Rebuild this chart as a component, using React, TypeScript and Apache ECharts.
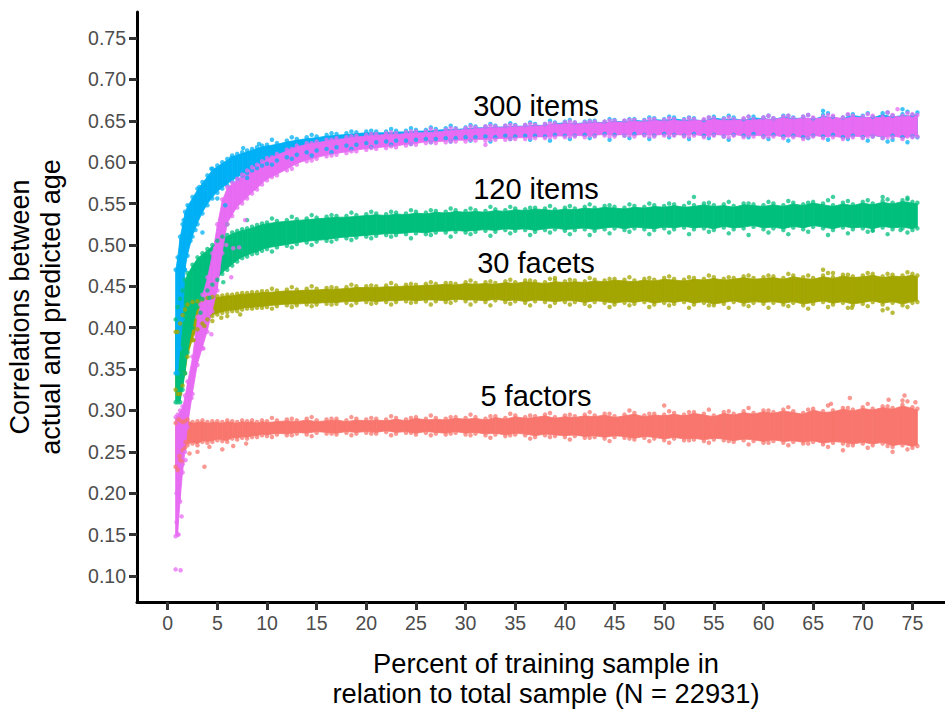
import React, { useEffect, useRef } from "react";
import * as echarts from "echarts";

const xTicks = [0, 5, 10, 15, 20, 25, 30, 35, 40, 45, 50, 55, 60, 65, 70, 75];
const yTicks = [0.1, 0.15, 0.2, 0.25, 0.3, 0.35, 0.4, 0.45, 0.5, 0.55, 0.6, 0.65, 0.7, 0.75];

const xs = [0.8, 1, 1.25, 1.5, 1.75, 2, 2.5, 3, 3.5, 4, 4.5, 5, 5.5, 6, 6.5, 7, 7.5, 8, 8.5, 9, 9.5, 10,
  11, 12, 13, 14, 15, 16, 17, 18, 19, 20, 21, 22, 23, 24, 25, 26, 27, 28, 29, 30,
  31, 32, 33, 34, 35, 36, 37, 38, 39, 40, 41, 42, 43, 44, 45, 46, 47, 48, 49, 50,
  51, 52, 53, 54, 55, 56, 57, 58, 59, 60, 61, 62, 63, 64, 65, 66, 67, 68, 69, 70,
  71, 72, 73, 74, 75, 75.5];

// Lower and upper edges of each cloud, correlation x 1000
const factorsLow = [232, 228, 240, 252, 255, 258, 260, 258, 262, 261, 262, 264, 263, 262, 266, 265, 267, 266, 268, 268, 270, 269,
  271, 270, 272, 271, 273, 272, 271, 273, 272, 273, 272, 274, 272, 273, 271, 273, 272, 271, 273, 271,
  272, 270, 271, 269, 271, 270, 268, 270, 269, 268, 269, 267, 268, 266, 268, 267, 265, 267, 266, 264,
  266, 264, 265, 263, 265, 264, 262, 264, 263, 261, 263, 261, 262, 260, 262, 259, 261, 260, 258, 260,
  258, 260, 256, 258, 255, 257];
const factorsHigh = [285, 290, 288, 286, 287, 289, 286, 287, 288, 286, 287, 287, 286, 288, 287, 286, 288, 287, 288, 286, 288, 287,
  288, 289, 288, 290, 288, 289, 290, 288, 290, 289, 290, 289, 291, 289, 292, 290, 291, 290, 292, 291,
  292, 290, 293, 291, 294, 292, 293, 295, 292, 294, 293, 295, 294, 296, 293, 295, 297, 294, 296, 295,
  297, 295, 298, 296, 294, 298, 296, 299, 297, 300, 298, 301, 299, 297, 302, 299, 300, 303, 301, 304,
  302, 305, 303, 307, 304, 302];
const facetsLow = [325, 320, 320, 330, 345, 365, 385, 398, 405, 410, 414, 416, 418, 419, 420, 420, 422, 423, 423, 424, 424, 425,
  426, 427, 427, 428, 428, 429, 429, 430, 430, 431, 430, 431, 431, 432, 431, 432, 432, 431, 433, 432,
  432, 431, 433, 431, 432, 430, 432, 431, 430, 431, 431, 429, 431, 430, 428, 430, 429, 431, 428, 430,
  429, 431, 428, 430, 427, 429, 431, 428, 430, 429, 430, 428, 430, 427, 429, 431, 428, 430, 427, 429,
  431, 428, 430, 427, 430, 431];
const facetsHigh = [395, 395, 405, 415, 422, 428, 431, 432, 434, 436, 437, 438, 439, 440, 440, 441, 442, 442, 443, 443, 444, 444,
  445, 446, 446, 447, 447, 448, 448, 449, 450, 450, 450, 451, 451, 452, 452, 453, 453, 454, 453, 455,
  454, 455, 454, 456, 455, 457, 456, 455, 457, 456, 457, 456, 458, 457, 459, 458, 457, 459, 458, 460,
  459, 458, 460, 459, 461, 459, 460, 462, 460, 461, 462, 460, 463, 461, 460, 463, 461, 464, 462, 463,
  465, 462, 464, 463, 465, 463];
const items120Low = [310, 310, 310, 325, 345, 370, 400, 425, 435, 445, 452, 458, 465, 470, 475, 480, 484, 486, 489, 490, 493, 495,
  497, 499, 501, 503, 504, 505, 507, 508, 509, 510, 511, 512, 512, 513, 514, 513, 515, 515, 516, 515,
  516, 517, 516, 518, 517, 518, 516, 518, 519, 517, 518, 519, 517, 519, 520, 518, 520, 519, 518, 520,
  519, 521, 519, 520, 518, 521, 519, 520, 522, 519, 520, 518, 521, 519, 522, 520, 518, 521, 519, 520,
  518, 521, 519, 520, 518, 520];
const items120High = [410, 425, 435, 445, 458, 466, 476, 485, 490, 495, 500, 505, 510, 512, 515, 517, 519, 520, 522, 524, 526, 527,
  529, 530, 531, 532, 533, 534, 535, 535, 536, 537, 538, 537, 539, 538, 540, 539, 541, 540, 542, 541,
  542, 541, 543, 542, 544, 543, 545, 544, 543, 545, 544, 546, 545, 547, 546, 545, 547, 546, 548, 547,
  549, 547, 548, 550, 548, 549, 547, 550, 549, 548, 550, 548, 551, 549, 552, 550, 548, 551, 549, 552,
  550, 553, 551, 554, 552, 551];
const items300FullLow = [345, 345, 375, 410, 470, 487, 510, 525, 538, 548, 556, 563, 568, 572, 577, 580, 584, 587, 590, 593, 596, 598,
  602, 606, 609, 612, 614, 616, 618, 620, 621, 623, 624, 625, 626, 626, 627, 628, 628, 629, 629, 630,
  630, 631, 630, 632, 631, 632, 632, 631, 633, 632, 632, 633, 632, 634, 633, 632, 634, 633, 632, 634,
  633, 632, 634, 632, 633, 631, 633, 632, 634, 631, 633, 631, 632, 630, 632, 631, 633, 630, 632, 630,
  631, 629, 632, 630, 631, 630];
const items300FullHigh = [470, 485, 510, 525, 540, 548, 558, 568, 576, 584, 592, 596, 600, 604, 608, 610, 612, 614, 616, 618, 620, 621,
  623, 626, 628, 630, 631, 633, 634, 635, 636, 637, 637, 637, 638, 638, 639, 639, 640, 641, 641, 642,
  643, 643, 644, 644, 645, 645, 646, 646, 648, 649, 648, 649, 650, 649, 651, 650, 652, 651, 653, 652,
  654, 652, 653, 651, 655, 653, 654, 652, 655, 654, 653, 656, 654, 655, 653, 657, 655, 654, 658, 656,
  655, 659, 656, 658, 657, 660];
const items300Low = [148, 150, 190, 225, 250, 280, 320, 355, 375, 395, 420, 445, 490, 525, 535, 545, 550, 556, 562, 567, 573, 578,
  584, 590, 597, 601, 604, 607, 609, 611, 613, 615, 616, 617, 618, 620, 621, 623, 623, 624, 625, 625,
  626, 626, 627, 627, 628, 628, 629, 629, 630, 630, 631, 630, 631, 632, 631, 632, 631, 632, 631, 632,
  632, 631, 632, 630, 632, 631, 632, 630, 631, 630, 631, 629, 630, 628, 631, 629, 630, 628, 630, 629,
  631, 629, 630, 628, 630, 631];
const items300High = [292, 295, 300, 305, 318, 335, 365, 413, 440, 461, 490, 525, 555, 570, 575, 580, 585, 590, 594, 597, 601, 605,
  610, 615, 620, 623, 625, 627, 629, 630, 632, 633, 634, 635, 635, 636, 637, 637, 638, 639, 640, 641,
  642, 643, 643, 644, 644, 645, 645, 646, 647, 648, 648, 648, 649, 649, 650, 650, 651, 650, 652, 651,
  652, 651, 652, 652, 653, 652, 652, 653, 652, 654, 653, 655, 653, 655, 654, 655, 656, 654, 656, 655,
  656, 655, 657, 656, 658, 657];

// Extra edge points between the band's columns, read as grain along each cloud
const grainX = [10.5, 12.5, 14.5, 16.5, 18.5, 20.5, 22.5, 24.5, 26.5, 28.5, 30.5, 32.5, 34.5, 36.5, 38.5, 40.5, 42.5,
  44.5, 46.5, 48.5, 50.5, 52.5, 54.5, 56.5, 58.5, 60.5, 62.5, 64.5, 66.5, 68.5, 70.5, 72.5, 74.5];
const factorsGrainLow = [268, 270, 269, 272, 270, 272, 270, 273, 270, 272, 270, 267, 270, 266, 268, 265, 267, 263, 266, 263, 261, 264, 261, 263, 259, 261, 258, 260, 256, 258, 255, 257, 253];
const factorsGrainHigh = [291, 290, 292, 290, 292, 291, 293, 291, 294, 292, 295, 293, 296, 294, 297, 295, 298, 296, 300, 296, 299, 298, 301, 299, 303, 300, 304, 301, 306, 303, 308, 305, 311];
const facetsGrainLow = [423, 425, 426, 428, 427, 429, 428, 430, 428, 430, 428, 427, 429, 427, 426, 428, 426, 425, 427, 425, 427, 424, 427, 424, 426, 424, 426, 423, 425, 424, 426, 423, 425];
const facetsGrainHigh = [447, 449, 450, 449, 452, 451, 454, 453, 455, 454, 457, 456, 458, 457, 459, 458, 460, 459, 461, 460, 462, 461, 463, 461, 463, 463, 465, 463, 466, 464, 466, 465, 467];
const items120GrainLow = [492, 497, 500, 504, 506, 508, 510, 508, 512, 510, 513, 511, 514, 512, 515, 513, 512, 514, 516, 513, 515, 513, 516, 514, 512, 515, 513, 516, 512, 514, 516, 513, 515];
const items120GrainHigh = [532, 534, 536, 536, 539, 540, 540, 542, 542, 544, 544, 546, 546, 545, 547, 547, 549, 548, 549, 550, 550, 551, 551, 552, 550, 552, 553, 551, 554, 553, 554, 555, 555];
const items300FullGrainLow = [597, 604, 608, 612, 616, 618, 621, 622, 624, 625, 626, 625, 628, 627, 626, 628, 629, 627, 629, 628, 630, 628, 629, 627, 630, 628, 626, 629, 627, 628, 626, 625, 624];
const items300FullGrainHigh = [627, 630, 633, 635, 637, 638, 640, 641, 642, 644, 645, 646, 647, 648, 650, 651, 650, 652, 652, 654, 655, 654, 654, 656, 655, 656, 656, 657, 659, 657, 659, 660, 661];
const items300GrainLow = [582, 592, 602, 608, 613, 617, 619, 622, 624, 625, 627, 627, 628, 629, 630, 631, 632, 631, 632, 631, 632, 631, 632, 630, 632, 631, 632, 630, 632, 630, 631, 630, 631];
const items300GrainHigh = [606, 616, 623, 627, 631, 634, 636, 637, 640, 641, 643, 644, 645, 646, 647, 649, 649, 650, 651, 652, 653, 653, 654, 654, 655, 656, 656, 657, 657, 658, 658, 660, 659];

// Single points lying outside the clouds: [percent, correlation x 1000]
const factorsStray = [[1.5, 238], [3, 250], [3.7, 232], [1.2, 245], [2.2, 248], [1.8, 262], [2.8, 266], [4.2, 256], [5.5, 253], [6.6, 257], [7.9, 260], [50, 306], [66.8, 308], [68.7, 315], [74, 312], [74.2, 318], [73, 250], [68, 252], [75.3, 310], [72.6, 313]];
const facetsStray = [[39, 460], [66, 470], [67, 466], [68.9, 424], [73, 418], [72, 421], [4.5, 408], [3.7, 402], [6, 414], [7.3, 416], [2.6, 385], [5.4, 412]];
const items120Stray = [[67, 558], [72, 558], [74.5, 557], [53, 558], [73.8, 518], [71, 517], [6, 525], [2.4, 405], [3.3, 418], [1.3, 335], [4.2, 436], [5.6, 455], [8, 530]];
const items300FullStray = [[3.5, 515], [5.8, 548], [73, 627], [66, 662], [74, 664], [5, 556], [8, 581], [1.7, 470], [2.3, 505], [2.8, 518], [3.2, 570], [4.4, 592], [6.4, 605], [7.6, 617], [9.2, 622], [1.6, 530]];
const items300Stray = [[0.8, 108], [1.3, 107], [1.1, 150], [0.9, 165], [1.5, 235], [6.4, 461], [7.2, 497], [3.3, 428], [2.7, 352], [6.6, 496], [73.5, 664], [32, 621], [5.9, 500], [5.1, 470], [4.4, 392], [7.8, 530], [3.6, 375], [2.4, 315], [1.8, 240], [0.9, 200], [1.4, 172]];

const grainLows = [factorsGrainLow, facetsGrainLow, items120GrainLow, items300FullGrainLow, items300GrainLow];
const grainHighs = [factorsGrainHigh, facetsGrainHigh, items120GrainHigh, items300FullGrainHigh, items300GrainHigh];

const names = ["5 factors", "30 facets", "120 items", "300 items (full)", "300 items"];
const colors = ["#F8766D", "#A3A500", "#00BF7D", "#00B0F6", "#E76BF3"];
const lows = [factorsLow, facetsLow, items120Low, items300FullLow, items300Low];
const highs = [factorsHigh, facetsHigh, items120High, items300FullHigh, items300High];
const strays = [factorsStray, facetsStray, items120Stray, items300FullStray, items300Stray];

const annotationTexts = ["300 items", "120 items", "30 facets", "5 factors"];
const annotationX = [536, 536, 536, 536];
const annotationY = [106, 189, 263, 396];

const FONT = '"Liberation Sans", Arial, Helvetica, sans-serif';

function buildSeries() {
  const out: any[] = [];
  names.forEach((name, s) => {
    const low = lows[s];
    const high = highs[s];
    const band = xs.map((x, i) => [x, low[i] / 1000, high[i] / 1000]);
    out.push({
      type: "custom",
      name: name + " band",
      silent: true,
      clip: true,
      data: band,
      encode: { x: 0, y: [1, 2] },
      renderItem: (params: any, api: any) => {
        const i = params.dataIndex;
        if (i >= band.length - 1) return null;
        const a = band[i];
        const b = band[i + 1];
        const inset = 0.0015;
        const points = [
          api.coord([a[0], a[1] + inset]),
          api.coord([a[0], a[2] - inset]),
          api.coord([b[0], b[2] - inset]),
          api.coord([b[0], b[1] + inset]),
        ];
        return {
          type: "polygon",
          shape: { points },
          style: { fill: colors[s], stroke: colors[s], lineWidth: 0.8 },
        };
      },
    });
    const dots: number[][] = [];
    xs.forEach((x, i) => {
      dots.push([x, low[i] / 1000]);
      dots.push([x, high[i] / 1000]);
    });
    grainX.forEach((x, i) => {
      dots.push([x, grainLows[s][i] / 1000]);
      dots.push([x, grainHighs[s][i] / 1000]);
    });
    strays[s].forEach((p) => dots.push([p[0], p[1] / 1000]));
    out.push({
      type: "scatter",
      name,
      symbol: "circle",
      symbolSize: 4.5,
      silent: true,
      itemStyle: { color: colors[s], opacity: 0.75 },
      data: dots,
    });
  });
  return out;
}

export default function App() {
  const ref = useRef<HTMLDivElement>(null);
  useEffect(() => {
    if (!ref.current) return;
    const chart = echarts.init(ref.current, undefined, { renderer: "svg" });
    chart.setOption({
      animation: false,
      backgroundColor: "#fff",
      textStyle: { fontFamily: FONT },
      grid: { left: 137, top: 12, right: 0, bottom: 107, containLabel: false, outerBoundsMode: "none" },
      xAxis: {
        type: "value",
        min: -3.09,
        max: 78.28,
        splitLine: { show: false },
        axisLine: { show: true, onZero: false, lineStyle: { color: "#000", width: 3 } },
        axisTick: { show: true, customValues: xTicks, length: 8, lineStyle: { color: "#333", width: 3 } },
        axisLabel: { customValues: xTicks, color: "#4D4D4D", fontSize: 19.5, fontFamily: FONT, margin: 11, showMinLabel: true, showMaxLabel: true },
        name: "Percent of training sample in\nrelation to total sample (N = 22931)",
        nameLocation: "middle",
        nameGap: 46,
        nameTextStyle: { color: "#000", fontSize: 27.3, fontFamily: FONT, lineHeight: 30, padding: [0, 0, 0, 10] },
      },
      yAxis: {
        type: "value",
        min: 0.0686,
        max: 0.7814,
        splitLine: { show: false },
        axisLine: { show: true, onZero: false, lineStyle: { color: "#000", width: 3 } },
        axisTick: { show: true, customValues: yTicks, length: 8, lineStyle: { color: "#333", width: 3 } },
        axisLabel: { customValues: yTicks, color: "#4D4D4D", fontSize: 19.5, fontFamily: FONT, margin: 11, formatter: (v: number) => v.toFixed(2) },
        name: "Correlations between\nactual and predicted age",
        nameLocation: "middle",
        nameGap: 71,
        nameTextStyle: { color: "#000", fontSize: 27, fontFamily: FONT, lineHeight: 31 },
      },
      graphic: annotationTexts.map((t, i) => ({
        type: "text",
        x: annotationX[i],
        y: annotationY[i],
        z: 100,
        style: { text: t, fill: "#000", fontSize: 29, fontFamily: FONT, align: "center", verticalAlign: "middle" },
      })),
      series: buildSeries(),
    });
    return () => chart.dispose();
  }, []);
  return <div ref={ref} style={{ position: "fixed", left: 0, top: 0, width: 945, height: 709 }} />;
}
